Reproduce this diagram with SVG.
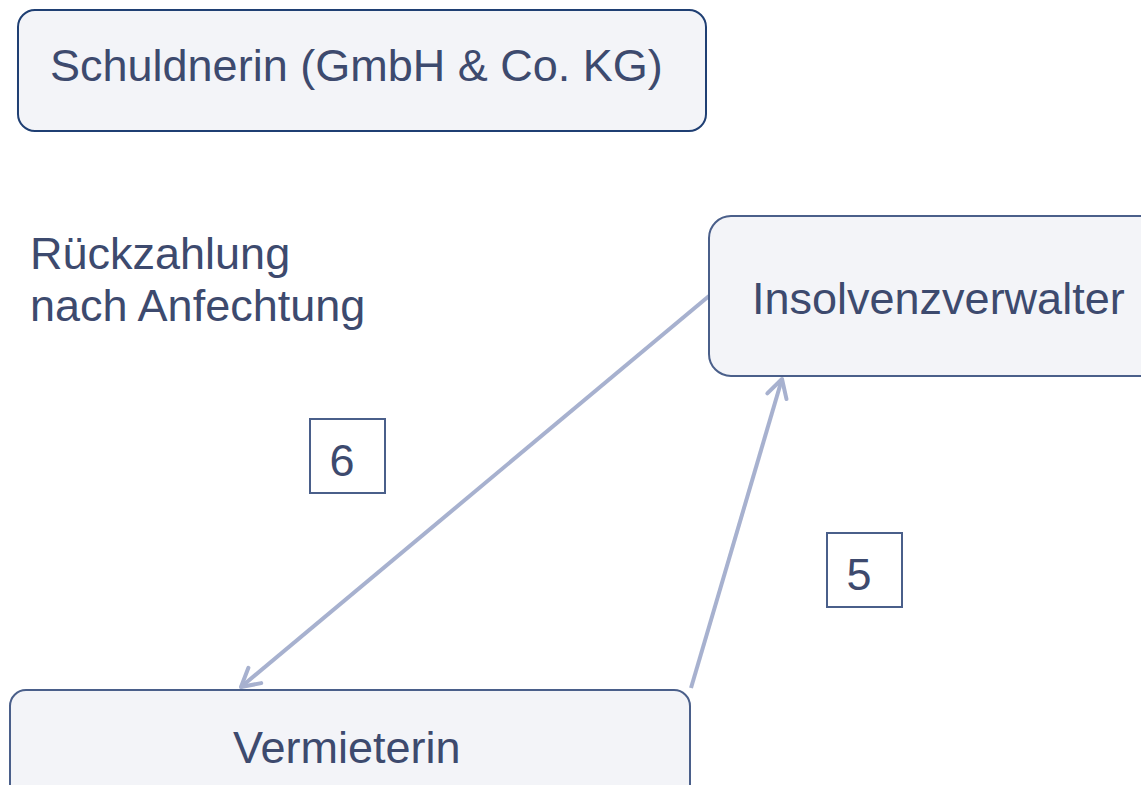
<svg xmlns="http://www.w3.org/2000/svg" width="1141" height="785" viewBox="0 0 1141 785">
<style>
.box{fill:#f3f4f8;stroke:#4a5f8a;stroke-width:2}
.t{font-family:"Liberation Sans",Arial,sans-serif;font-size:45px;fill:#3d4a6e}
.lbl{fill:#ffffff;stroke:#4a5f8a;stroke-width:2}
.conn{stroke:#a7b1cf;stroke-width:4;fill:none}
</style>
<defs>
<marker id="ah" viewBox="0 0 24 24" refX="21" refY="12" markerWidth="24" markerHeight="24" markerUnits="userSpaceOnUse" orient="auto" overflow="visible">
<path d="M3,2 L21,12 L3,22" fill="none" stroke="#a7b1cf" stroke-width="4" stroke-linecap="round" stroke-linejoin="round"/>
</marker>
</defs>
<rect width="1141" height="785" fill="#ffffff"/>
<g id="connectors">
<line class="conn" x1="709" y1="296" x2="241" y2="687" marker-end="url(#ah)"/>
<line class="conn" x1="691" y1="688" x2="782" y2="379" marker-end="url(#ah)"/>
</g>
<g id="schuldnerin">
<rect class="box" x="18" y="10" width="688" height="121" rx="17" style="stroke:#1f3f73"/>
<text class="t" x="50" y="81">Schuldnerin (GmbH &amp; Co. KG)</text>
</g>
<g id="insolvenzverwalter">
<rect class="box" x="709" y="216" width="460" height="160" rx="22"/>
<text class="t" x="752" y="314">Insolvenzverwalter</text>
</g>
<g id="vermieterin">
<rect class="box" x="10" y="690" width="680" height="130" rx="16"/>
<text class="t" x="233" y="763">Vermieterin</text>
</g>
<g id="note">
<text class="t" x="30" y="269">Rückzahlung</text>
<text class="t" x="30" y="321">nach Anfechtung</text>
</g>
<g id="label6">
<rect class="lbl" x="310" y="419" width="75" height="74"/>
<text class="t" x="342" y="476" text-anchor="middle">6</text>
</g>
<g id="label5">
<rect class="lbl" x="827" y="533" width="75" height="74"/>
<text class="t" x="859" y="590" text-anchor="middle">5</text>
</g>
</svg>
